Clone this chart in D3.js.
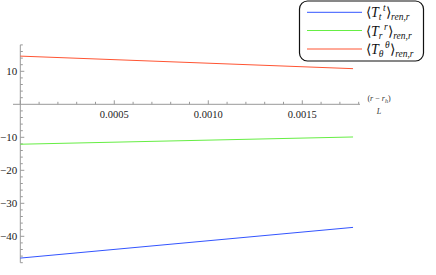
<!DOCTYPE html>
<html>
<head>
<meta charset="utf-8">
<script src="https://cdn.jsdelivr.net/npm/d3@7"></script>
<style>
  body { margin: 0; background: #fff; }
</style>
</head>
<body>
<svg id="chart" width="436" height="275"></svg>
<script>
// values
const xs = [0, 0.00177];
const tt = [-46.6, -37.3];
const trr = [-12.1, -9.9];
const tth = [14.6, 10.8];

const seriesNames = ['t', 'r', 'θ'];
const seriesColors = ['#3355ff', '#66ee44', '#ff5533'];
const seriesValues = [tt, trr, tth];

const xMajor = [0.0005, 0.0010, 0.0015];
const yMajor = [-40, -30, -20, -10, 10];

const serif = "'Liberation Serif'";

const svg = d3.select('#chart');

let xScale = d3.scaleLinear()
  .domain([0, 0.001807])
  .range([20.3, 360]);

let yScale = d3.scaleLinear()
  .domain([-48, 18])
  .range([262.7, 44.9]);

const axisCol = '#999';

// y axis
const yAx = svg.append('g');
yAx.append('line')
  .attr('x1', xScale(0)).attr('x2', xScale(0))
  .attr('y1', yScale(-48)).attr('y2', yScale(18))
  .attr('stroke', axisCol).attr('stroke-width', 1);

d3.range(-48, 18.1, 2).forEach(v => {
  if (v === 0) return;
  const major = v % 10 === 0;
  yAx.append('line')
    .attr('x1', xScale(0)).attr('x2', xScale(0) + (major ? 4 : 2.5))
    .attr('y1', yScale(v)).attr('y2', yScale(v))
    .attr('stroke', axisCol);
});

yMajor.forEach(v => {
  yAx.append('text')
    .attr('x', xScale(0) - 3)
    .attr('y', yScale(v) + 3.5)
    .attr('text-anchor', 'end')
    .attr('font-size', 11)
    .style('font-family', serif)
    .attr('fill', '#222')
    .text(v < 0 ? '\u2212' + Math.abs(v) : v);
});

// x axis
const xAx = svg.append('g');
xAx.append('line')
  .attr('x1', 13).attr('x2', xScale(0.001807))
  .attr('y1', yScale(0)).attr('y2', yScale(0))
  .attr('stroke', axisCol);

d3.range(0, 0.00181, 0.0001).forEach((v, i) => {
  const major = i % 5 === 0;
  xAx.append('line')
    .attr('x1', xScale(v)).attr('x2', xScale(v))
    .attr('y1', yScale(0)).attr('y2', yScale(0) - (major ? 4 : 2.5))
    .attr('stroke', axisCol);
});

xMajor.forEach(v => {
  xAx.append('text')
    .attr('x', xScale(v))
    .attr('y', yScale(0) + 14)
    .attr('text-anchor', 'middle')
    .attr('font-size', 10.5)
    .style('font-family', serif)
    .attr('fill', '#222')
    .text(v.toFixed(4));
});

// axis label (r - r_h)/L
const lab = xAx.append('g').attr('font-size', 8).attr('fill', '#333')
  .style('font-family', serif).attr('font-style', 'italic');
const num = lab.append('text').attr('x', 379).attr('y', 101).attr('text-anchor', 'middle');
num.append('tspan').attr('font-style', 'normal').text('(');
num.append('tspan').text('r');
num.append('tspan').attr('font-style', 'normal').text(' \u2212 ');
num.append('tspan').text('r');
num.append('tspan').attr('font-size', 6).attr('dy', 1.5).text('h');
num.append('tspan').attr('font-style', 'normal').attr('dy', -1.5).text(')');
lab.append('text').attr('x', 379).attr('y', 114).attr('text-anchor', 'middle').text('L');

// lines
let line = d3.line()
  .x((d, i) => xScale(xs[i]))
  .y(d => yScale(d));

seriesValues.forEach((vals, k) => {
  svg.append('path')
    .datum(vals)
    .attr('d', line)
    .attr('stroke', seriesColors[k])
    .attr('stroke-width', 1)
    .attr('fill', 'none');
});

// legend
const leg = svg.append('g');
leg.append('rect')
  .attr('x', 299.5).attr('y', 1)
  .attr('width', 124).attr('height', 60)
  .attr('rx', 8).attr('ry', 8)
  .attr('fill', '#fff')
  .attr('stroke', '#111').attr('stroke-width', 1.2);

const rowsY = [12.3, 30.5, 49];
seriesNames.forEach((n, k) => {
  leg.append('line')
    .attr('x1', 307).attr('x2', 362)
    .attr('y1', rowsY[k]).attr('y2', rowsY[k])
    .attr('stroke', seriesColors[k]).attr('stroke-width', 1);

  const t = leg.append('text')
    .attr('x', 366).attr('y', rowsY[k] + 5)
    .attr('font-size', 14)
    .style('font-family', serif)
    .attr('fill', '#111');
  t.append('tspan').text('\u27e8');
  t.append('tspan').attr('font-style', 'italic').text('T');
  t.append('tspan').attr('font-style', 'italic').attr('font-size', 9.5).attr('dy', 3).text(n);
  t.append('tspan').attr('font-style', 'italic').attr('font-size', 9.5).attr('dy', -9).attr('dx', 1.5).text(n);
  t.append('tspan').attr('dy', 6).attr('dx', 0.5).text('\u27e9');
  t.append('tspan').attr('font-style', 'italic').attr('font-size', 9.5).attr('dy', 3).text('ren,r');
});
</script>
</body>
</html>
